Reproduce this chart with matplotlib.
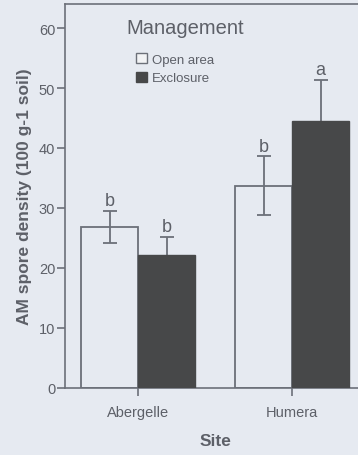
import matplotlib
matplotlib.use("Agg")
import matplotlib.pyplot as plt
from matplotlib.patches import Patch
import numpy as np

plt.rcParams['font.family'] = ['Liberation Sans', 'DejaVu Sans']

sites = ["Abergelle", "Humera"]
treatments = ["Open area", "Exclosure"]
means = {"Open area": [26.8, 33.7], "Exclosure": [22.2, 44.5]}
errors = {"Open area": [2.7, 4.9], "Exclosure": [3.0, 6.8]}
letters = {"Open area": ["b", "b"], "Exclosure": ["b", "a"]}
yticks = [0, 10, 20, 30, 40, 50, 60]

bg = "#e6eaf1"
line_c = "#6c7079"
text_c = "#5d6068"
dark = "#474849"

W, H = 358, 456
fig = plt.figure(figsize=(W / 100, H / 100), dpi=100, facecolor=bg)
ax = fig.add_axes([65 / W, (H - 389) / H, (366 - 65) / W, (389 - 5) / H])
ax.set_facecolor(bg)

x = np.arange(len(sites))
width = 0.37
offsets = {"Open area": -width / 2, "Exclosure": width / 2}
styles = {
    "Open area": dict(facecolor="none", edgecolor=line_c, linewidth=1.3),
    "Exclosure": dict(facecolor=dark, edgecolor=dark, linewidth=1.0),
}

for t in treatments:
    xs = x + offsets[t]
    ax.bar(xs, means[t], width, zorder=3, **styles[t])
    ax.errorbar(xs, means[t], yerr=errors[t], fmt="none", ecolor=line_c,
                elinewidth=1.3, capsize=5, capthick=1.3, zorder=2)
    for xi, m, e, lab in zip(xs, means[t], errors[t], letters[t]):
        ax.text(xi, m + e + 0.3, lab, ha="center", va="bottom",
                fontsize=13, color=text_c, zorder=4)

ax.set_xlim(-0.474, 1.48)
ax.set_ylim(0, 64)
ax.set_yticks(yticks)
ax.set_xticks(x)
ax.set_xticklabels(sites)

for s in ["left", "bottom", "top", "right"]:
    ax.spines[s].set_color(line_c)
    ax.spines[s].set_linewidth(1.2)

ax.tick_params(axis="both", colors=line_c, labelcolor=text_c, width=1.2,
               length=6, labelsize=10.5)
ax.tick_params(axis="y", pad=1)
ax.tick_params(axis="x", pad=6)

ax.set_ylabel("AM spore density (100 g-1 soil)", fontsize=12.5,
              fontweight="bold", color=text_c, labelpad=5)
ax.set_xlabel("Site", fontsize=12.5, fontweight="bold", color=text_c,
              labelpad=10)

# legend title and entries
fig.text(185 / W, 1 - 29 / H, "Management", ha="center", va="center",
         fontsize=14.5, color=text_c)
handles = [Patch(facecolor="#f2f3f5", edgecolor=line_c, linewidth=1.0),
           Patch(facecolor=dark, edgecolor=dark)]
leg = fig.legend(handles, treatments, loc="upper left",
                 bbox_to_anchor=(136 / W, 1 - 54 / H), frameon=False,
                 fontsize=9.5, handlelength=0.8, handleheight=0.8,
                 handletextpad=0.4, labelspacing=0.45, borderpad=0,
                 borderaxespad=0)
for txt in leg.get_texts():
    txt.set_color(text_c)

fig.savefig("out.png", dpi=100, facecolor=bg)
